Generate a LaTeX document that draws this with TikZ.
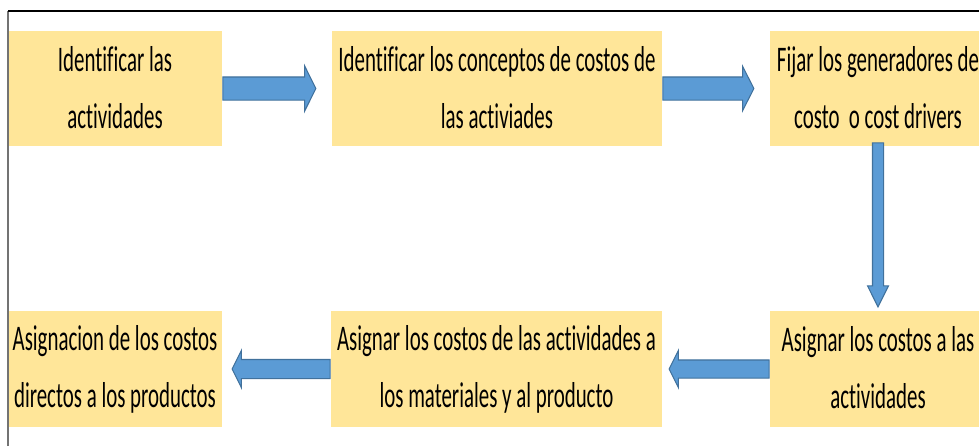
\documentclass[tikz,border=0pt]{standalone}
\usepackage{fontspec}
\newfontfamily\cajafont[FakeStretch=0.58, Ligatures=NoCommon]{Carlito}
\usetikzlibrary{shapes.arrows}
\definecolor{cajaamarilla}{RGB}{255,230,153}
\definecolor{flechaazul}{RGB}{91,155,213}
\definecolor{bordeazul}{RGB}{65,113,156}

\begin{document}
\begin{tikzpicture}[x=0.2mm, y=-0.2mm,
        caja/.style={fill=cajaamarilla, inner sep=0pt, minimum height=23mm, align=center,
                font=\cajafont\fontsize{20.5pt}{32.4pt}\selectfont,
                execute at begin node={\rule{0pt}{31.2pt}},
                execute at end node={\rule[-1.2pt]{0pt}{1.2pt}}},
        flecha/.style={single arrow, fill=flechaazul, draw=bordeazul, line width=0.6pt,
                anchor=tail, inner xsep=0pt}]
        \useasboundingbox (0, 0) rectangle (979, 446);
        \clip (0, 0) rectangle (979, 446);

        \node[caja, minimum width=42.8mm] (ident) at (115, 88.5) {Identificar las\\actividades};
        \node[caja, minimum width=66mm] (concep) at (497, 88.5) {Identificar los conceptos de costos de\\las activiades};
        \node[caja, minimum width=43.2mm] (gener) at (878, 88.5) {Fijar los generadores de\\costo\ \ o cost drivers};
        \node[caja, minimum width=43.2mm, minimum height=23.2mm] (asigact) at (878, 369) {Asignar los costos a las\\actividades};
        \node[caja, minimum width=66.2mm, minimum height=23.2mm] (asigmat) at (496.5, 369) {Asignar los costos de las actividades a\\los materiales y al producto};
        \node[caja, minimum width=42.8mm, minimum height=23.2mm] (asigdir) at (115, 369) {Asignacion de los costos\\directos a los productos};

        \node[flecha, inner ysep=2.2mm, single arrow head extend=2.2mm, minimum width=8.8mm,
              minimum height=18.6mm, single arrow tip angle=127] (f1) at (ident.east) {};
        \node[flecha, inner ysep=2.2mm, single arrow head extend=2.1mm, minimum width=8.6mm,
              minimum height=18.2mm, single arrow tip angle=126] (f2) at (concep.east) {};
        \node[flecha, inner xsep=1mm, inner ysep=0pt, single arrow head extend=1mm, minimum width=4mm,
              minimum height=32.8mm, single arrow tip angle=53, shape border rotate=270]
              (f3) at ([yshift=0.8mm]gener.south) {};
        \node[flecha, inner ysep=1.7mm, single arrow head extend=1.9mm, minimum width=7.2mm,
              minimum height=20mm, single arrow tip angle=127, shape border rotate=180]
              (f4) at (asigact.west) {};
        \node[flecha, inner ysep=1.8mm, single arrow head extend=1.8mm, minimum width=7.2mm,
              minimum height=19.6mm, single arrow tip angle=127, shape border rotate=180]
              (f5) at (asigmat.west) {};

        % marco
        \draw[black!55, line width=0.6pt] (8, 446) -- (8, 11);
        \draw[line width=0.6pt] (8, 11) -- (979, 11);
\end{tikzpicture}
\end{document}
